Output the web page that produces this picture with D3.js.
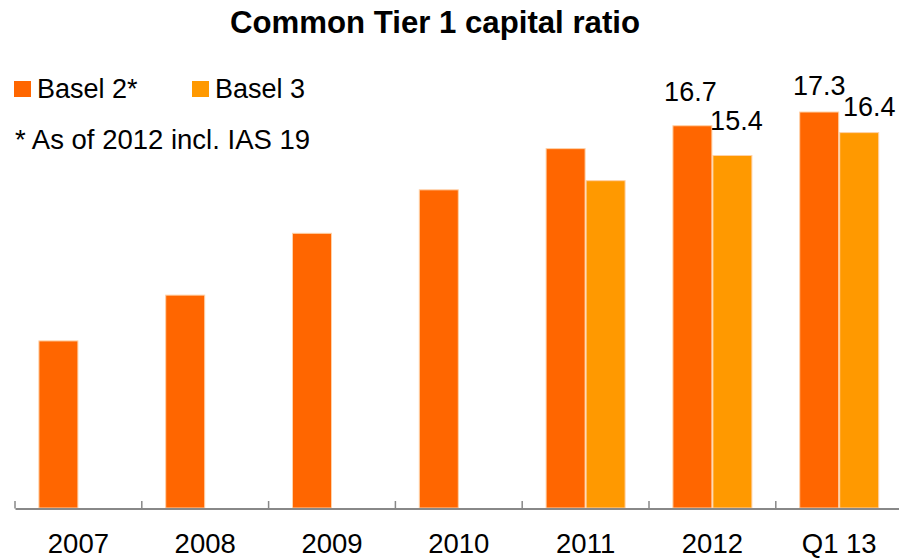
<!DOCTYPE html>
<html>
<head>
<meta charset="utf-8">
<script src="https://cdn.jsdelivr.net/npm/d3@7/dist/d3.min.js"></script>
<style>
  html, body { margin: 0; padding: 0; background: #fff; }
  svg { display: block; font-family: "Liberation Sans", Arial, sans-serif; }
</style>
</head>
<body>
<svg id="chart" width="899" height="558"></svg>
<script>
// Common Tier 1 capital ratio, in percent
const categories = ["2007", "2008", "2009", "2010", "2011", "2012", "Q1 13"];
const seriesNames = ["Basel 2*", "Basel 3"];
const basel2 = [7.3, 9.3, 12.0, 13.9, 15.7, 16.7, 17.3];
const basel3 = [null, null, null, null, 14.3, 15.4, 16.4];
const labelledCategories = ["2012", "Q1 13"];
const footnote = "* As of 2012 incl. IAS 19";
const title = "Common Tier 1 capital ratio";

const colors = { "Basel 2*": "#FF6600", "Basel 3": "#FF9900" };

// value label nudges (dx, dy above bar top) per category/series
const labelNudge = {
  "2012": { "Basel 2*": [-2, -25], "Basel 3": [4, -25] },
  "Q1 13": { "Basel 2*": [0, -17], "Basel 3": [10, -17] }
};

const svg = d3.select("#chart");
const baseY = 508;

const x = d3.scaleBand().domain(categories).range([15, 15 + 126.8 * categories.length]).padding(0);
const xInner = d3.scaleBand().domain(seriesNames)
  .range([x.bandwidth() / 2 - 39.5, x.bandwidth() / 2 + 39.5]).paddingInner(0.025);
const y = d3.scaleLinear().domain([0, 20]).range([baseY, baseY - 20 * 22.89]);

const rows = categories.map((c, i) => ({
  category: c,
  values: [
    { series: "Basel 2*", value: basel2[i] },
    { series: "Basel 3", value: basel3[i] }
  ]
}));

// Title
svg.append("text")
  .attr("x", 435).attr("y", 33)
  .attr("text-anchor", "middle")
  .attr("font-size", 30.5).attr("font-weight", "bold")
  .attr("textLength", 410).attr("lengthAdjust", "spacingAndGlyphs")
  .text(title);

// Bars
const groups = svg.append("g").selectAll("g")
  .data(rows).join("g")
  .attr("transform", d => `translate(${x(d.category)},0)`);

groups.selectAll("rect")
  .data(d => d.values.filter(v => v.value != null))
  .join("rect")
  .attr("x", d => xInner(d.series))
  .attr("width", xInner.bandwidth())
  .attr("y", d => y(d.value))
  .attr("height", d => baseY - y(d.value))
  .attr("fill", d => colors[d.series])
  .attr("stroke", "#ffd2a8")
  .attr("stroke-width", 1);

// Value labels
groups.filter(d => labelledCategories.includes(d.category))
  .selectAll("text.val")
  .data(d => d.values.filter(v => v.value != null).map(v => ({ ...v, category: d.category })))
  .join("text")
  .attr("class", "val")
  .attr("x", d => xInner(d.series) + xInner.bandwidth() / 2 + labelNudge[d.category][d.series][0])
  .attr("y", d => y(d.value) + labelNudge[d.category][d.series][1])
  .attr("text-anchor", "middle")
  .attr("font-size", 27)
  .attr("fill", "#000")
  .text(d => d3.format(".1f")(d.value));

// Category axis
const axis = d3.axisBottom(x).tickSize(0).tickPadding(0);
const axisG = svg.append("g").attr("transform", `translate(0,${baseY + 0.5})`).call(axis);
axisG.select(".domain").attr("stroke", "#888").attr("stroke-width", 2);
axisG.selectAll(".tick text")
  .attr("font-size", 27.5).attr("fill", "#000")
  .attr("font-family", "Liberation Sans, Arial, sans-serif")
  .attr("dy", null).attr("y", 44.5);
// boundary tick marks between categories
const boundaries = categories.map(c => x(c)).concat([x(categories[categories.length - 1]) + x.bandwidth()]);
svg.append("g").selectAll("line").data(boundaries).join("line")
  .attr("x1", d => d).attr("x2", d => d)
  .attr("y1", baseY + 0.5).attr("y2", baseY - 7)
  .attr("stroke", "#888").attr("stroke-width", 1.5);

// Legend
const legendX = [14, 192];
const legend = svg.append("g").selectAll("g").data(seriesNames).join("g")
  .attr("transform", (d, i) => `translate(${legendX[i]},81)`);
legend.append("rect").attr("width", 17).attr("height", 16).attr("fill", d => colors[d]);
legend.append("text").attr("x", 23).attr("y", 16.5)
  .attr("font-size", 27).attr("fill", "#000").text(d => d);

// Footnote
svg.append("text").attr("x", 15).attr("y", 149)
  .attr("font-size", 27.5).attr("fill", "#000").text(footnote);
</script>
</body>
</html>
